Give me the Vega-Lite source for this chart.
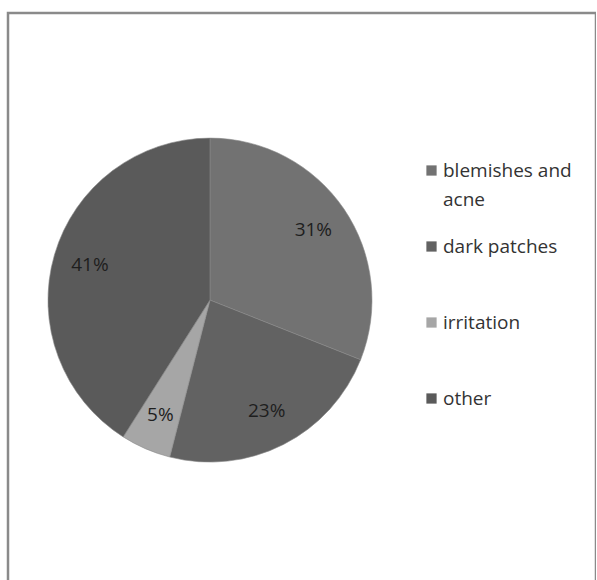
{
  "$schema": "https://vega.github.io/schema/vega-lite/v6.json",
  "autosize": "none",
  "width": 588,
  "height": 580,
  "padding": {"left": 8, "top": 13, "right": 0, "bottom": 0},
  "background": "white",
  "view": {"stroke": "#8a8a8a", "strokeWidth": 2.5, "fill": "white"},
  "config": {"style": {"guide-label": {"lineHeight": 29}}},
  "data": {
    "values": [
      {"category": "blemishes and acne", "value": 31, "label": "31%", "order": 1},
      {"category": "dark patches", "value": 23, "label": "23%", "order": 2},
      {"category": "irritation", "value": 5, "label": "5%", "order": 3},
      {"category": "other", "value": 41, "label": "41%", "order": 4}
    ]
  },
  "encoding": {
    "theta": {"field": "value", "type": "quantitative", "stack": true},
    "order": {"field": "order", "type": "quantitative"},
    "x": {"value": {"expr": "width * 0.3435"}},
    "y": {"value": {"expr": "height * 0.495"}}
  },
  "layer": [
    {
      "mark": {"type": "arc", "radius": 162, "stroke": "#8a8a8a", "strokeWidth": 0.6},
      "encoding": {
        "color": {
          "field": "category",
          "type": "nominal",
          "sort": ["blemishes and acne", "dark patches", "irritation", "other"],
          "scale": {
            "domain": ["blemishes and acne", "dark patches", "irritation", "other"],
            "range": ["#727272", "#626262", "#a6a6a6", "#5a5a5a"]
          },
          "legend": {
            "orient": "none",
            "legendX": 414,
            "legendY": 148,
            "title": null,
            "symbolType": "square",
            "symbolSize": 105,
            "symbolStrokeWidth": 0,
            "labelFont": "Open Sans",
            "labelFontSize": 19,
            "labelColor": "#333333",
            "labelLimit": 300,
            "labelOffset": 2,
            "labelBaseline": "middle",
            "gridAlign": "all",
            "rowPadding": 27,
            "labelExpr": "datum.label == 'blemishes and acne' ? ['blemishes and', 'acne'] : datum.label"
          }
        }
      }
    },
    {
      "mark": {"type": "text", "radius": 125, "font": "Open Sans", "fontSize": 19, "color": "#1e1e1e"},
      "encoding": {
        "text": {"field": "label", "type": "nominal"}
      }
    }
  ]
}
